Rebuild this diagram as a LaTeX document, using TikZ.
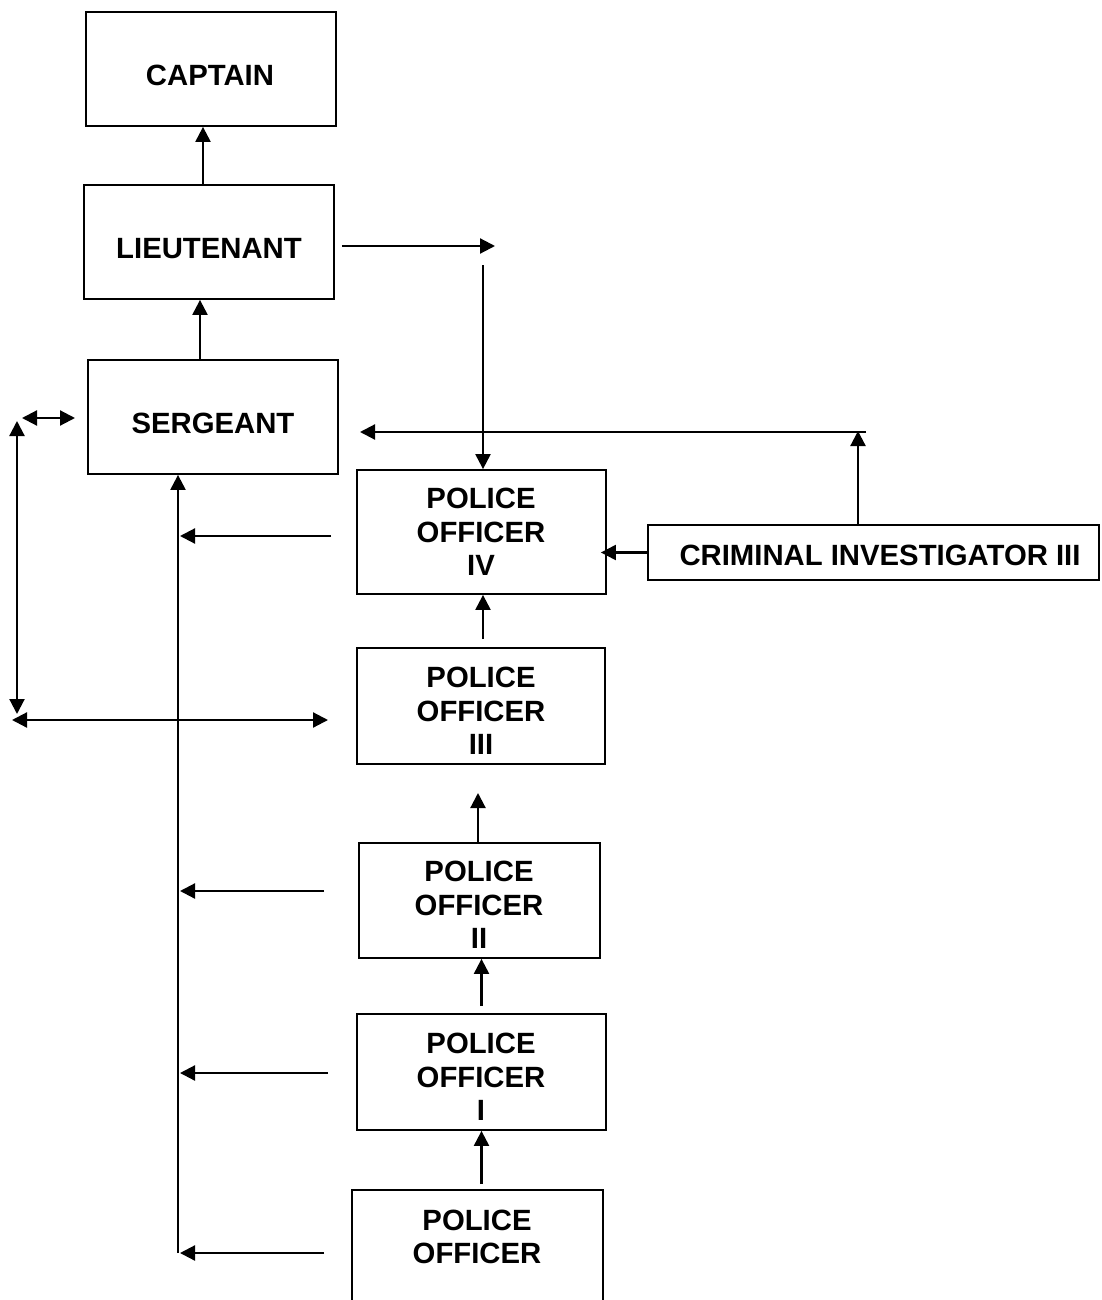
\documentclass[tikz,border=0pt]{standalone}
\usepackage{fontspec}
\setmainfont{Liberation Sans}
\usetikzlibrary{arrows.meta}
\begin{document}
\begin{tikzpicture}[x=1pt,y=-1pt,
  box/.style={draw, line width=1.8pt, inner sep=0pt},
  lbl/.style={align=center, inner sep=0pt,
    font=\bfseries\fontsize{29.3}{33.5}\selectfont},
  arr/.style={line width=2.2pt, -{Triangle[length=15pt,width=15pt]}},
  darr/.style={line width=2.2pt, {Triangle[length=15pt,width=15pt]}-{Triangle[length=15pt,width=15pt]}}]
\useasboundingbox[fill=white] (0,0) rectangle (1101,1300);
\clip (0,0) rectangle (1101,1300);
% boxes
\node[box, minimum width=250pt, minimum height=114pt] (cap) at (211,69) {};
\node[box, minimum width=250pt, minimum height=114pt] (lt) at (209,242) {};
\node[box, minimum width=250pt, minimum height=114pt] (sg) at (213,417) {};
\node[box, minimum width=249pt, minimum height=124pt] (p4) at (481.5,532) {};
\node[box, minimum width=248pt, minimum height=116pt] (p3) at (481,706) {};
\node[box, minimum width=241pt, minimum height=115pt] (p2) at (479.5,900.5) {};
\node[box, minimum width=249pt, minimum height=116pt] (p1) at (481.5,1072) {};
\node[box, minimum width=251pt, minimum height=126pt] (p0) at (477.5,1253) {};
\node[box, minimum width=451pt, minimum height=55pt] (ci) at (873.5,552.5) {};
% texts
\node[lbl] (capt) at (210,75) {CAPTAIN};
\node[lbl] (ltt) at (209,249) {LIEUTENANT};
\node[lbl] (sgt) at (213,423) {SERGEANT};
\node[lbl] (p4t) at (481,532) {POLICE\\OFFICER\\IV};
\node[lbl] (p3t) at (481,711) {POLICE\\OFFICER\\III};
\node[lbl] (p2t) at (479,905) {POLICE\\OFFICER\\II};
\node[lbl] (p1t) at (481,1077) {POLICE\\OFFICER\\I};
\node[lbl] (p0t) at (477,1237) {POLICE\\OFFICER};
\node[lbl] (cit) at (880,555) {CRIMINAL INVESTIGATOR III};
% coordinates for free ends
\coordinate (c1) at (495,246);
\coordinate (c2) at (483,265);
\coordinate (c3) at (858,431);
\coordinate (c4) at (866,432);
\coordinate (c5) at (360,432);
\coordinate (c6) at (478,793);
\coordinate (t0) at (178,1253);
\coordinate (a4) at (331,536);
\coordinate (a2) at (324,891);
\coordinate (a1) at (328,1073);
\coordinate (a0) at (324,1253);
\coordinate (d1) at (22,418);
\coordinate (d2) at (75,418);
\coordinate (v1) at (17,421);
\coordinate (v2) at (17,714);
\coordinate (h1) at (12,720);
\coordinate (h2) at (328,720);
% connectors
\draw[arr] ([xshift=-6pt]lt.north) -- ([xshift=-8pt]cap.south);
\draw[arr] ([xshift=-13pt]sg.north) -- ([xshift=-9pt]lt.south);
\draw[arr] ([xshift=7pt]lt.east |- c1) -- (c1);
\draw[arr] (c2) -- (c2 |- p4.north);
\draw[arr] (ci.north -| c3) -- (c3);
\draw[arr] (c4) -- (c5);
\draw[arr] (ci.west) -- ([xshift=-6pt]p4.east |- ci.west);
\draw[arr] (t0) -- (t0 |- sg.south);
\draw[arr] (a4) -- ([xshift=2pt]a4 -| t0);
\draw[arr] (a2) -- ([xshift=2pt]a2 -| t0);
\draw[arr] (a1) -- ([xshift=2pt]a1 -| t0);
\draw[arr] (a0) -- ([xshift=2pt]a0 -| t0);
\draw[darr] (d1) -- (d2);
\draw[darr] (v1) -- (v2);
\draw[darr] (h1) -- (h2);
\draw[arr] ([yshift=8pt,xshift=2pt]p3.north) -- ([xshift=1.5pt]p4.south);
\draw[arr] (p2.north -| c6) -- (c6);
\draw[arr] ([yshift=7pt]p1.north) -- (p1.north |- p2.south);
\draw[arr] ([yshift=5pt]p0.north -| p1.north) -- (p1.south);
\end{tikzpicture}
\end{document}
